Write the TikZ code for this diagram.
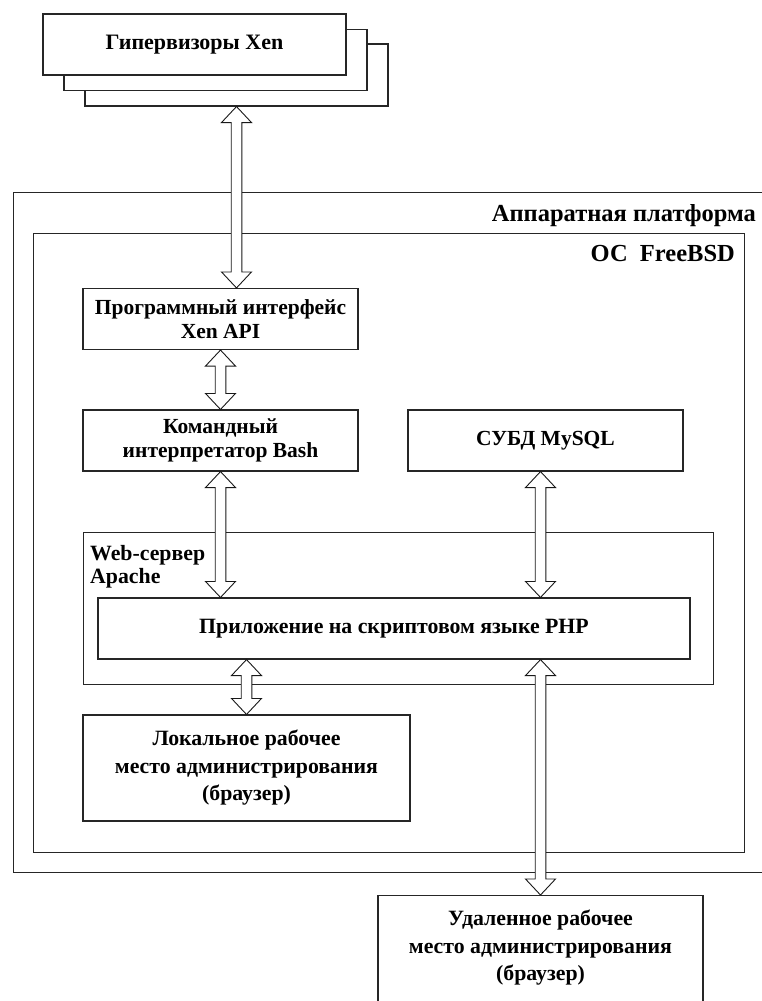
\documentclass[tikz,border=0pt]{standalone}
\usepackage{fontspec}
\setmainfont{Liberation Serif}
\usetikzlibrary{calc}
\tikzset{
  box/.style={draw=black!85, line width=1.1pt, fill=white, align=center, inner sep=0pt,
    font=\fontsize{21.5}{24}\selectfont\bfseries},
  cbox/.style={box, font=\fontsize{21.8}{27.5}\selectfont\bfseries},
  frame/.style={draw=black!85, line width=1.2pt},
  lbl/.style={inner sep=0pt, font=\fontsize{24.5}{26}\selectfont\bfseries},
  fat/.style={draw=black!90, line width=0.9pt, fill=white, line join=miter},
}
\newcommand\dblarr[2]{%
  \path[fat] let \p1=#1, \p2=#2 in
    (\x1,\y1) -- (\x1+15pt,\y1-16pt) -- (\x1+5.3pt,\y1-16pt) -- (\x1+5.3pt,\y2+16pt)
    -- (\x1+15pt,\y2+16pt) -- (\x1,\y2) -- (\x1-15pt,\y2+16pt) -- (\x1-5.3pt,\y2+16pt)
    -- (\x1-5.3pt,\y1-16pt) -- (\x1-15pt,\y1-16pt) -- cycle;}
\begin{document}
\begin{tikzpicture}[x=1pt,y=-1pt]
\useasboundingbox (0,0) rectangle (762,1001);
% outer frames
\node[frame, anchor=north west, minimum width=754pt, minimum height=680pt, inner sep=0pt] (hw) at (12.5,192) {};
\node[frame, anchor=north west, minimum width=711pt, minimum height=619.5pt, inner sep=0pt] (os) at (33,232.5) {};
\node[lbl, anchor=base east] (hwlbl) at (756,221.7) {Аппаратная платформа};
\node[lbl, anchor=base east] (oslbl) at (735,261.7) {ОС\ \ FreeBSD};
% hypervisors stack
\node[box, minimum width=303pt, minimum height=62pt] (hyp3) at (236.5,75) {};
\node[box, minimum width=303pt, minimum height=61pt] (hyp2) at (215.5,60) {};
\node[box, minimum width=303pt, minimum height=61pt, font=\fontsize{22}{26}\selectfont\bfseries] (hyp) at (194.5,44.5) {Гипервизоры Xen};
% inner boxes
\node[box, minimum width=275pt, minimum height=61pt] (xenapi) at (220.5,319) {Программный интерфейс\\Xen API};
\node[box, minimum width=275pt, minimum height=61pt] (bash) at (220.5,440.5) {Командный\\интерпретатор Bash};
\node[box, minimum width=275pt, minimum height=61pt] (mysql) at (545.5,440.5) {СУБД MySQL};
\node[frame, anchor=north west, minimum width=630pt, minimum height=152pt, inner sep=0pt] (web) at (83,532) {};
\node[lbl, anchor=north west, align=left, font=\fontsize{21.8}{23}\selectfont\bfseries] (weblbl) at (90,545) {Web-сервер\\Apache};
\node[cbox, minimum width=592pt, minimum height=61pt] (php) at (394,628.5) {Приложение на скриптовом языке PHP};
\node[cbox, minimum width=327pt, minimum height=106pt] (local) at (246.5,768) {Локальное рабочее\\место администрирования\\(браузер)};
\node[cbox, anchor=north, minimum width=325pt, minimum height=112pt] (remote) at (540.5,895) {};
\node[inner sep=0pt, align=center, font=\fontsize{21.8}{27.5}\selectfont\bfseries] (remotetxt) at (540.5,948) {Удаленное рабочее\\место администрирования\\(браузер)};
% arrows
\dblarr{(hyp3.south)}{(xenapi.north)}
\dblarr{(xenapi.south)}{(bash.north)}
\dblarr{(bash.south)}{(bash.south |- php.north)}
\dblarr{(remote.north |- mysql.south)}{(remote.north |- php.north)}
\dblarr{(local.north |- php.south)}{(local.north)}
\dblarr{(remote.north |- php.south)}{(remote.north)}
\end{tikzpicture}
\end{document}
